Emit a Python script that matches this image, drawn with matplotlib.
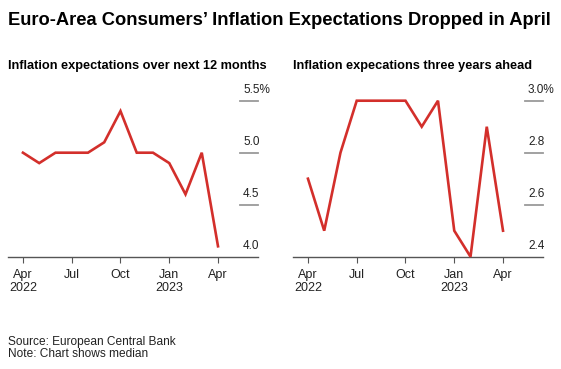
import matplotlib
matplotlib.use("Agg")
import matplotlib.pyplot as plt
import matplotlib.transforms as mtransforms

# monthly readings, Apr 2022 .. Apr 2023
months = ["Apr 2022", "May", "Jun", "Jul", "Aug", "Sep", "Oct", "Nov", "Dec",
          "Jan 2023", "Feb", "Mar", "Apr"]
next_12m = [5.0, 4.9, 5.0, 5.0, 5.0, 5.1, 5.4, 5.0, 5.0, 4.9, 4.6, 5.0, 4.1]
three_yr = [2.7, 2.5, 2.8, 3.0, 3.0, 3.0, 3.0, 2.9, 3.0, 2.5, 2.4, 2.9, 2.5]

xtick_pos = [0, 3, 6, 9, 12]
xtick_labels = ["Apr\n2022", "Jul", "Oct", "Jan\n2023", "Apr"]

left_ticks = [4.0, 4.5, 5.0, 5.5]
left_labels = ["4.0", "4.5", "5.0", "5.5%"]
right_ticks = [2.4, 2.6, 2.8, 3.0]
right_labels = ["2.4", "2.6", "2.8", "3.0%"]

RED = "#d32f2b"
GRID = "#9a9a9a"
AXIS = "#555555"
FONT = "Liberation Sans"

W, H = 561, 369
fig = plt.figure(figsize=(W / 100, H / 100), dpi=100)


def px_axes(x0, x1, ytop, ybot):
    return fig.add_axes([x0 / W, 1 - ybot / H, (x1 - x0) / W, (ybot - ytop) / H])


def panel(ax, values, ticks, labels):
    x = list(range(len(values)))
    ax.plot(x, values, color=RED, lw=1.9, solid_joinstyle="miter", clip_on=False, zorder=3)
    ax.set_xlim(-0.92, 14.46)
    ax.set_ylim(ticks[0], ticks[-1])
    for s in ["top", "left", "right"]:
        ax.spines[s].set_visible(False)
    ax.spines["bottom"].set_color(AXIS)
    ax.spines["bottom"].set_linewidth(1.0)
    ax.set_yticks([])
    ax.set_xticks(xtick_pos)
    ax.set_xticklabels(xtick_labels, family=FONT, fontsize=9, color="#222222",
                       linespacing=1.1)
    ax.tick_params(axis="x", length=4, width=0.8, color=AXIS, pad=5)
    trans = mtransforms.blended_transform_factory(ax.transAxes, ax.transData)
    for t, lab in zip(ticks, labels):
        if t != ticks[0]:
            ax.plot([0.928, 1.0], [t, t], transform=trans, color=GRID, lw=1.3,
                    clip_on=False, zorder=1)
        ax.annotate(lab, xy=(0.94, t), xycoords=trans, xytext=(0, 3.5),
                    textcoords="offset points", ha="left", va="bottom",
                    family=FONT, fontsize=8.5, color="#222222")


ax1 = px_axes(8, 258, 100.7, 256.7)
panel(ax1, next_12m, left_ticks, left_labels)
ax2 = px_axes(293, 543, 100.7, 256.7)
panel(ax2, three_yr, right_ticks, right_labels)

fig.text(8 / W, 1 - 25 / H, "Euro-Area Consumers\u2019 Inflation Expectations Dropped in April",
         family=FONT, fontsize=13.2, fontweight="bold", va="baseline", ha="left")
fig.text(8 / W, 1 - 69 / H, "Inflation expectations over next 12 months",
         family=FONT, fontsize=9.2, fontweight="bold", va="baseline", ha="left")
fig.text(293 / W, 1 - 69 / H, "Inflation expecations three years ahead",
         family=FONT, fontsize=9.2, fontweight="bold", va="baseline", ha="left")
fig.text(8 / W, 1 - 357 / H, "Source: European Central Bank\nNote: Chart shows median",
         family=FONT, fontsize=8.6, va="baseline", ha="left", linespacing=1.05,
         color="#222222")

fig.savefig("out.png", dpi=100, facecolor="white")
